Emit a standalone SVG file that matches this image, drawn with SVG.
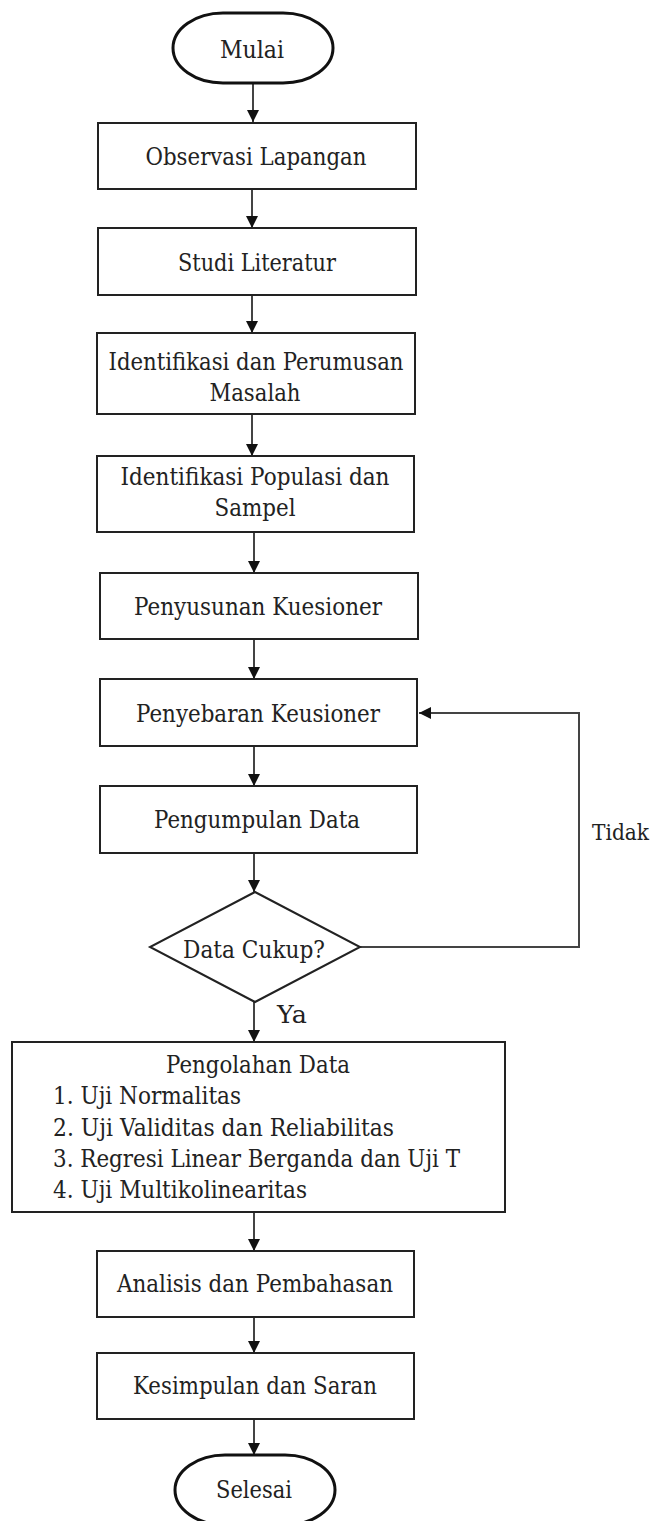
<svg xmlns="http://www.w3.org/2000/svg" width="657" height="1521" viewBox="0 0 657 1521">
<style>
  .box { fill: #ffffff; stroke: #222222; stroke-width: 2; }
  .term { fill: #ffffff; stroke: #111111; stroke-width: 3; }
  text { font-family: 'DejaVu Serif', serif; font-size: 24.5px; fill: #222222; }
  .c { text-anchor: middle; }
  .edge { fill: none; stroke: #444444; stroke-width: 2; }
</style>
<defs>
  <marker id="arrow" markerUnits="userSpaceOnUse" markerWidth="14" markerHeight="14" refX="12" refY="6" orient="auto">
    <path d="M0,0 L12,6 L0,12 z" fill="#111111"/>
  </marker>
</defs>
<rect width="657" height="1521" fill="#ffffff"/>

<g id="connectors">
  <line class="edge" x1="253" y1="84" x2="253" y2="122" marker-end="url(#arrow)"/>
  <line class="edge" x1="252" y1="189" x2="252" y2="228" marker-end="url(#arrow)"/>
  <line class="edge" x1="252" y1="295" x2="252" y2="333" marker-end="url(#arrow)"/>
  <line class="edge" x1="252" y1="414" x2="252" y2="456" marker-end="url(#arrow)"/>
  <line class="edge" x1="254" y1="532" x2="254" y2="573" marker-end="url(#arrow)"/>
  <line class="edge" x1="254" y1="639" x2="254" y2="679" marker-end="url(#arrow)"/>
  <line class="edge" x1="254" y1="746" x2="254" y2="786" marker-end="url(#arrow)"/>
  <line class="edge" x1="254" y1="853" x2="254" y2="892" marker-end="url(#arrow)"/>
  <line class="edge" x1="254" y1="1002" x2="254" y2="1042" marker-end="url(#arrow)"/>
  <line class="edge" x1="254" y1="1212" x2="254" y2="1251" marker-end="url(#arrow)"/>
  <line class="edge" x1="254" y1="1317" x2="254" y2="1353" marker-end="url(#arrow)"/>
  <line class="edge" x1="254" y1="1419" x2="254" y2="1455" marker-end="url(#arrow)"/>
  <polyline class="edge" points="360,947 579,947 579,713 419,713" marker-end="url(#arrow)"/>
  <text x="592" y="840" style="font-size:21.5px" textLength="57" lengthAdjust="spacingAndGlyphs">Tidak</text>
  <text x="277" y="1023" textLength="30" lengthAdjust="spacingAndGlyphs">Ya</text>
</g>

<g id="mulai">
  <rect class="term" x="173" y="13" width="160" height="70" rx="50" ry="35"/>
  <text class="c" x="252" y="58" textLength="64" lengthAdjust="spacingAndGlyphs">Mulai</text>
</g>

<g id="observasi">
  <rect class="box" x="98" y="123" width="318" height="66"/>
  <text class="c" x="256" y="165" textLength="221" lengthAdjust="spacingAndGlyphs">Observasi Lapangan</text>
</g>

<g id="studi">
  <rect class="box" x="98" y="228" width="318" height="67"/>
  <text class="c" x="257" y="271" textLength="158" lengthAdjust="spacingAndGlyphs">Studi Literatur</text>
</g>

<g id="identifikasi-masalah">
  <rect class="box" x="97" y="333" width="318" height="81"/>
  <text class="c" x="256" y="370" textLength="295" lengthAdjust="spacingAndGlyphs">Identifikasi dan Perumusan</text>
  <text class="c" x="255" y="401" textLength="91" lengthAdjust="spacingAndGlyphs">Masalah</text>
</g>

<g id="identifikasi-populasi">
  <rect class="box" x="97" y="456" width="317" height="76"/>
  <text class="c" x="255" y="485" textLength="269" lengthAdjust="spacingAndGlyphs">Identifikasi Populasi dan</text>
  <text class="c" x="255" y="516" textLength="81" lengthAdjust="spacingAndGlyphs">Sampel</text>
</g>

<g id="penyusunan">
  <rect class="box" x="100" y="573" width="318" height="66"/>
  <text class="c" x="258" y="615" textLength="248" lengthAdjust="spacingAndGlyphs">Penyusunan Kuesioner</text>
</g>

<g id="penyebaran">
  <rect class="box" x="100" y="679" width="317" height="67"/>
  <text class="c" x="258" y="722" textLength="244" lengthAdjust="spacingAndGlyphs">Penyebaran Keusioner</text>
</g>

<g id="pengumpulan">
  <rect class="box" x="100" y="786" width="317" height="67"/>
  <text class="c" x="257" y="828" textLength="206" lengthAdjust="spacingAndGlyphs">Pengumpulan Data</text>
</g>

<g id="keputusan">
  <polygon class="box" points="255,892 360,947 255,1002 150,947"/>
  <text class="c" x="254" y="958" textLength="142" lengthAdjust="spacingAndGlyphs">Data Cukup?</text>
</g>

<g id="pengolahan">
  <rect class="box" x="12" y="1042" width="493" height="170"/>
  <text class="c" x="258" y="1073" textLength="184" lengthAdjust="spacingAndGlyphs">Pengolahan Data</text>
  <text x="53" y="1104" textLength="188" lengthAdjust="spacingAndGlyphs">1. Uji Normalitas</text>
  <text x="53" y="1136" textLength="341" lengthAdjust="spacingAndGlyphs">2. Uji Validitas dan Reliabilitas</text>
  <text x="53" y="1167" textLength="407" lengthAdjust="spacingAndGlyphs">3. Regresi Linear Berganda dan Uji T</text>
  <text x="53" y="1198" textLength="254" lengthAdjust="spacingAndGlyphs">4. Uji Multikolinearitas</text>
</g>

<g id="analisis">
  <rect class="box" x="97" y="1251" width="317" height="66"/>
  <text class="c" x="255" y="1292" textLength="276" lengthAdjust="spacingAndGlyphs">Analisis dan Pembahasan</text>
</g>

<g id="kesimpulan">
  <rect class="box" x="97" y="1353" width="317" height="66"/>
  <text class="c" x="255" y="1394" textLength="244" lengthAdjust="spacingAndGlyphs">Kesimpulan dan Saran</text>
</g>

<g id="selesai">
  <rect class="term" x="175" y="1455" width="160" height="70" rx="50" ry="35"/>
  <text class="c" x="254" y="1498" textLength="76" lengthAdjust="spacingAndGlyphs">Selesai</text>
</g>
</svg>
